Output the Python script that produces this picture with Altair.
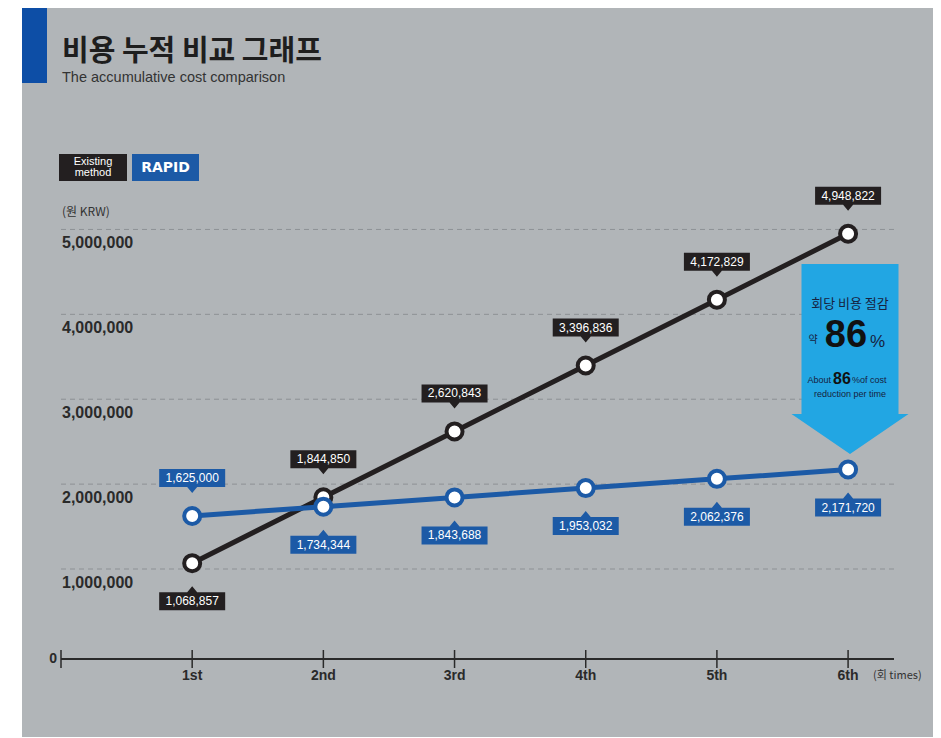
import altair as alt
import pandas as pd

# ---------------- data ----------------
rounds = ["1st", "2nd", "3rd", "4th", "5th", "6th"]
round_no = [1, 2, 3, 4, 5, 6]
existing = [1068857, 1844850, 2620843, 3396836, 4172829, 4948822]
rapid = [1625000, 1734344, 1843688, 1953032, 2062376, 2171720]
existing_side = ["below", "above", "above", "above", "above", "above"]
rapid_side = ["above", "below", "below", "below", "below", "below"]
y_ticks = [1000000, 2000000, 3000000, 4000000, 5000000]
y_tick_labels = ["1,000,000", "2,000,000", "3,000,000", "4,000,000", "5,000,000"]
tick_positions = [0, 1, 2, 3, 4, 5, 6]

# ---------------- style ----------------
W, H = 833, 472
X_DOMAIN = [0, 6.35]
Y_DOMAIN = [-60000, 5500000]
BG = "#b1b5b8"
BLACK = "#231f20"
BLUE = "#1c5aa6"
CYAN = "#22a6e3"
NAVY = "#16223f"
DARK = "#2a2a2a"
SANS = "Liberation Sans"
NARROW = "Liberation Sans Narrow, Liberation Sans"
KR = "Noto Sans CJK KR"

PATH_ABOVE = "M-33,-47H33V-29H5L0,-23L-5,-29H-33Z"
PATH_BELOW = "M-33,47H33V29H5L0,23L-5,29H-33Z"
ARROW = "M-48.5,-190H48.5V-40H58.5L0,0L-58.5,-40H-48.5Z"

def series_df(name, values, sides):
    return pd.DataFrame({
        "series": name,
        "round": rounds,
        "n": round_no,
        "value": values,
        "label": [f"{v:,}" for v in values],
        "side": sides,
    })

df_e = series_df("Existing", existing, existing_side)
df_r = series_df("RAPID", rapid, rapid_side)
df_grid = pd.DataFrame({"value": y_ticks, "label": y_tick_labels})
df_ticks = pd.DataFrame({"n": tick_positions})
one = pd.DataFrame({"a": [0]})

xs = alt.Scale(domain=X_DOMAIN, nice=False, zero=False)
ys = alt.Scale(domain=Y_DOMAIN, nice=False, zero=False)
X = alt.X("n:Q", scale=xs, axis=None)
Y = alt.Y("value:Q", scale=ys, axis=None)

# background panel and decorations
panel = alt.Chart(one).mark_rect(color=BG).encode(
    x=alt.value(-39), x2=alt.value(W + 39), y=alt.value(-179), y2=alt.value(H + 78))
bar = alt.Chart(one).mark_rect(color="#0d4ea6").encode(
    x=alt.value(-39), x2=alt.value(-14), y=alt.value(-179), y2=alt.value(-104))

def txt(text, x, y, size, color=DARK, font=SANS, weight="normal", align="left",
        baseline="alphabetic"):
    return alt.Chart(one).mark_text(
        text=text, fontSize=size, color=color, font=font, fontWeight=weight,
        align=align, baseline=baseline,
    ).encode(x=alt.value(x), y=alt.value(y))

title = txt("비용 누적 비교 그래프", 1, -126, 29, color="#1e1e1e", font=KR, weight="bold")
subtitle = txt("The accumulative cost comparison", 1, -105, 14.5, color="#333333")

leg_e = alt.Chart(one).mark_rect(color=BLACK).encode(
    x=alt.value(-2), x2=alt.value(66), y=alt.value(-33), y2=alt.value(-6))
leg_r = alt.Chart(one).mark_rect(color=BLUE).encode(
    x=alt.value(71), x2=alt.value(138), y=alt.value(-33), y2=alt.value(-6))
leg_t1 = txt("Existing", 32, -25, 11, color="white", align="center", baseline="middle")
leg_t2 = txt("method", 32, -14, 11, color="white", align="center", baseline="middle")
leg_t3 = txt("RAPID", 104.5, -19, 14, color="white", font="DejaVu Sans", weight="bold",
             align="center", baseline="middle")
unit = txt("(원 KRW)", 1, 25, 12, color="#333333", font=KR, baseline="middle")

# grid and y labels
grid = alt.Chart(df_grid).mark_rule(color="#8d9195", strokeWidth=1, strokeDash=[5, 4]).encode(
    y=Y, x=alt.value(0), x2=alt.value(W))
ylabels = alt.Chart(df_grid).mark_text(
    align="left", baseline="middle", dy=14, fontSize=16, fontWeight="bold",
    color=DARK, font=SANS).encode(y=Y, x=alt.value(1), text="label:N")

# x axis
axis_line = alt.Chart(one).mark_rule(color=DARK, strokeWidth=2).encode(
    x=alt.value(0), x2=alt.value(W), y=alt.value(H))
ticks = alt.Chart(df_ticks).mark_rule(color=DARK, strokeWidth=1.5).encode(
    x=X, y=alt.value(H - 9), y2=alt.value(H + 9))
xlabels = alt.Chart(df_e).mark_text(
    baseline="middle", fontSize=14, fontWeight="bold", color=DARK, font=SANS).encode(
    x=X, y=alt.value(H + 17), text="round:N")
zero = txt("0", -4, H, 14, weight="bold", align="right", baseline="middle")
times = txt("(회 times)", 812, H + 17, 11, color="#333333", font=KR, baseline="middle")

def series_layers(df, color):
    base = alt.Chart(df)
    line = base.mark_line(color=color, strokeWidth=5).encode(x=X, y=Y)
    pts = base.mark_point(shape="circle", filled=True, fill="white", stroke=color,
                          strokeWidth=4, size=256, opacity=1).encode(x=X, y=Y)
    return line, pts

def label_layers(df, color):
    out = []
    for side, path, dy in (("above", PATH_ABOVE, -38), ("below", PATH_BELOW, 38)):
        b = alt.Chart(df).transform_filter(alt.datum.side == side)
        out.append(b.mark_point(shape=path, size=4, filled=True, fill=color,
                                strokeWidth=0, opacity=1).encode(x=X, y=Y))
        out.append(b.mark_text(color="white", fontSize=12, font=NARROW, dy=dy,
                               baseline="middle").encode(x=X, y=Y, text="label:N"))
    return out

e_line, e_pts = series_layers(df_e, BLACK)
r_line, r_pts = series_layers(df_r, BLUE)
labels = label_layers(df_e, BLACK) + label_layers(df_r, BLUE)

# arrow annotation
arrow = alt.Chart(one).mark_point(shape=ARROW, size=4, filled=True, fill=CYAN,
                                  strokeWidth=0, opacity=1).encode(
    x=alt.value(789), y=alt.value(267))
a1 = txt("회당 비용 절감", 789, 117, 13, color=NAVY, font=KR, align="center", baseline="middle")
a2 = txt("86", 785, 160, 38, color="#111111", weight="bold", align="center")
a3 = txt("약", 752, 153, 10, color=NAVY, font=KR, align="center", baseline="middle")
a4 = txt("%", 809, 160, 17, color=NAVY)
a5 = txt("About", 770, 196, 9, color=NAVY, align="right")
a6 = txt("86", 781, 197, 16, color="#111111", weight="bold", align="center")
a7 = txt("%of cost", 791, 196, 9, color=NAVY)
a8 = txt("reduction per time", 789, 210, 9, color=NAVY, align="center")

chart = alt.layer(
    panel, bar, title, subtitle, leg_e, leg_r, leg_t1, leg_t2, leg_t3, unit,
    grid, ylabels, axis_line, ticks, xlabels, zero, times,
    e_line, e_pts, r_line, r_pts, *labels,
    arrow, a1, a2, a3, a4, a5, a6, a7, a8,
).properties(
    width=W, height=H,
    padding={"left": 53, "top": 179, "right": 39, "bottom": 78},
    autosize="none",
    background="white",
).configure_view(stroke=None)

chart.save("out.html", embed_options={"renderer": "svg", "actions": False})
